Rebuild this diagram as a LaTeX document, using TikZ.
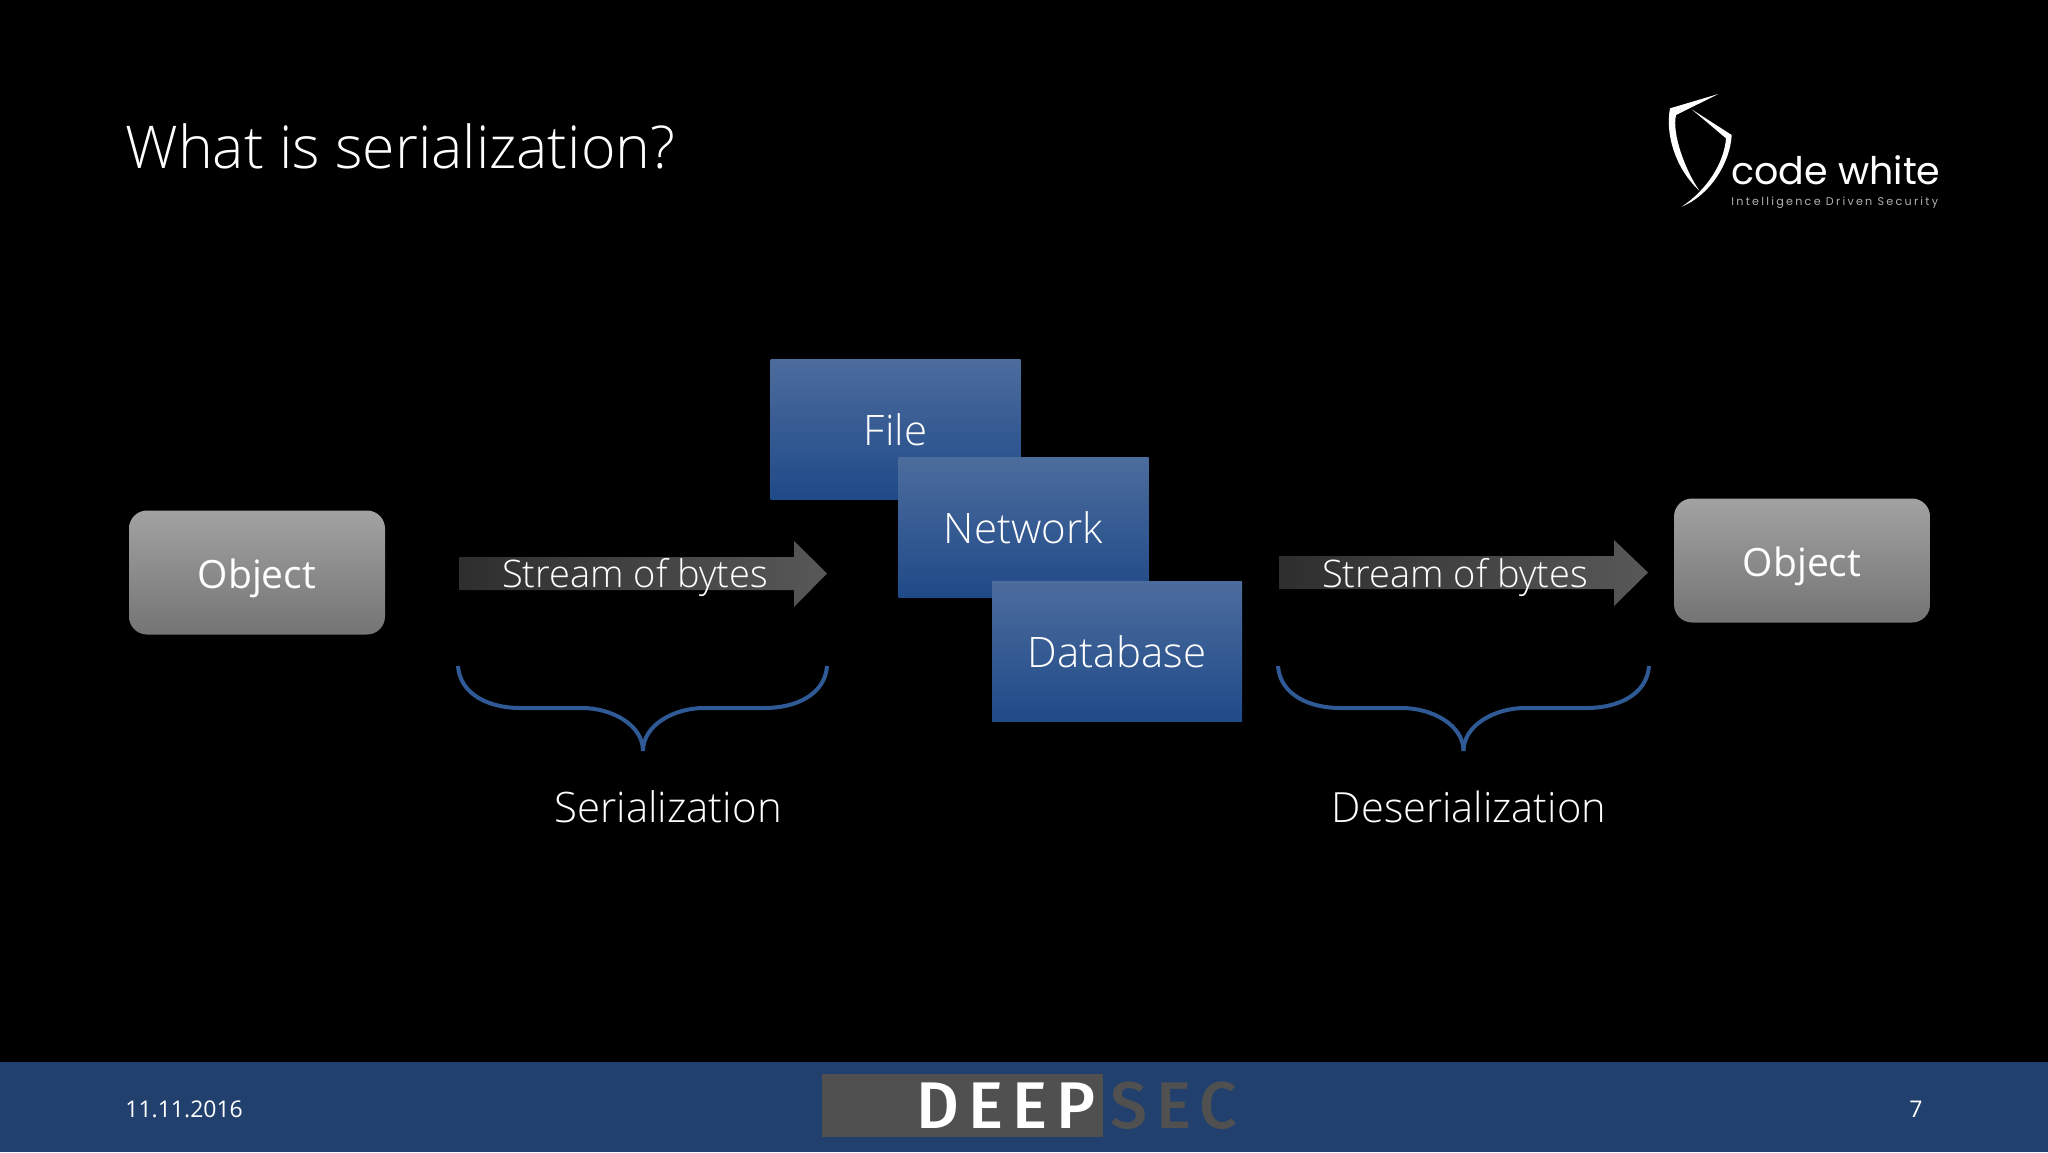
\documentclass[tikz,border=0pt]{standalone}
\usepackage{fontspec}
\setmainfont{Open Sans}[UprightFont=* Light,BoldFont=* Semibold]
\newfontfamily\objfont{Open Sans}
\newfontfamily\logofont{Poppins}
\newfontfamily\logospaced{Poppins}[LetterSpace=20]
\newfontfamily\deepfont{Fira Sans}[UprightFont=* Medium,LetterSpace=14]
\usetikzlibrary{calc}
\definecolor{barblue}{HTML}{22406E}
\definecolor{bracecol}{HTML}{2F5A96}
\definecolor{deepgrey}{HTML}{505050}
\definecolor{blue1}{HTML}{4C6C9D}
\definecolor{blue2}{HTML}{1F4A88}
\definecolor{gray1}{HTML}{A2A2A2}
\definecolor{gray2}{HTML}{747474}
\definecolor{arrow1}{HTML}{2E2E2E}
\definecolor{arrow2}{HTML}{585858}
\tikzset{
  x=0.5pt,y=-0.5pt,
  bluebox/.style={rectangle,draw=none,anchor=center,inner sep=0pt,minimum width=125pt,minimum height=70pt,top color=blue1,bottom color=blue2,text=white,font=\fontsize{21}{25}\selectfont},
  objbox/.style={rectangle,rounded corners=9pt,draw=none,top color=gray1,bottom color=gray2,inner sep=0pt,minimum width=128pt,minimum height=62pt,text=white},
  objlabel/.style={text=white,inner sep=0pt,font=\objfont\fontsize{19.5}{25}\selectfont},
  streamlabel/.style={text=white,inner sep=0pt,font=\fontsize{19}{24}\selectfont},
  arrowshape/.style={left color=arrow1,right color=arrow2,draw=none},
  bracecurve/.style={draw=bracecol,line width=2pt},
  caption/.style={text=white,inner sep=0pt,font=\fontsize{21}{25}\selectfont},
  foot/.style={text=white,inner sep=0pt,font=\fontsize{11.5}{14}\selectfont}
}
\begin{document}
\begin{tikzpicture}
\useasboundingbox (0,0) rectangle (2048,1152);
\fill[black] (0,0) rectangle (2048,1152);
% footer
\fill[barblue] (0,1062) rectangle (2048,1152);
\fill[deepgrey] (822,1074) rectangle (1103,1137);
\node[inner sep=0pt,anchor=base west,text=white] (deep) at (916,1128) {\deepfont\fontsize{33}{33}\selectfont DEEP};
\node[inner sep=0pt,anchor=base west,text=deepgrey] (sec) at (1110,1128) {\deepfont\fontsize{33}{33}\selectfont SEC};
\node[foot,anchor=west] (date) at (125,1109) {\fontspec{Open Sans}11.11.2016};
\node[foot] (page) at (1916,1109) {\fontspec{Open Sans}7};
% title
\node[inner sep=0pt,anchor=base west,text=white,font=\fontsize{29.5}{34}\selectfont] (title) at (125,168) {What is serialization?};
% logo
\begin{scope}[shift={(1620,70)},x=0.1667pt,y=-0.1667pt]
\fill[white] (295,72) -- (150,115) .. controls (135,190) and (165,295) .. (238,362) .. controls (195,300) and (155,190) .. (168,135) -- cycle;
\fill[white] (215,118) -- (335,195) .. controls (330,280) and (270,375) .. (185,410) .. controls (260,360) and (312,280) .. (318,205) -- cycle;
\end{scope}
\node[inner sep=0pt,anchor=base west,text=white] (logo) at (1731,184) {\logofont\fontsize{19}{20}\selectfont code white};
\node[inner sep=0pt,anchor=base west,text=white!70!black] (tag) at (1731,205) {\logospaced\fontsize{5.6}{6}\selectfont Intelligence Driven Security};
% objects
\node[objbox] (objL) at (257,572.5) {};
\node[objlabel] at (257,578) {Object};
\node[objbox] (objR) at (1802,560.5) {};
\node[objlabel] at (1802,566) {Object};
% stores
\node[bluebox] (file) at (895.5,429.5) {File};
\node[bluebox] (net) at (1023.5,527.5) {Network};
\node[bluebox] (db) at (1117,651.5) {Database};
% arrows
\path[arrowshape] (459,557) -- (794,557) -- (794,541) -- (827,573.5) -- (794,607) -- (794,590) -- (459,590) -- cycle;
\node[streamlabel] (s1) at (635,577.5) {Stream of bytes};
\path[arrowshape] (1279,556) -- (1614,556) -- (1614,540) -- (1648,572.5) -- (1614,606) -- (1614,589) -- (1279,589) -- cycle;
\node[streamlabel] (s2) at (1455,577.5) {Stream of bytes};
% braces
\draw[bracecurve] (458,666) .. controls (460,695) and (490,708) .. (520,708) -- (582,708) .. controls (612,708) and (643,725) .. (643,751);
\draw[bracecurve] (827,666) .. controls (825,695) and (795,708) .. (765,708) -- (704,708) .. controls (674,708) and (643,725) .. (643,751);
\draw[bracecurve] (1278,666) .. controls (1280,695) and (1310,708) .. (1340,708) -- (1402,708) .. controls (1432,708) and (1463.5,725) .. (1463.5,751);
\draw[bracecurve] (1649,666) .. controls (1647,695) and (1617,708) .. (1587,708) -- (1525,708) .. controls (1495,708) and (1463.5,725) .. (1463.5,751);
\node[caption] (c1) at (668,807) {Serialization};
\node[caption,font=\fontsize{20.8}{25}\selectfont] (c2) at (1469,807) {Deserialization};
\end{tikzpicture}
\end{document}
